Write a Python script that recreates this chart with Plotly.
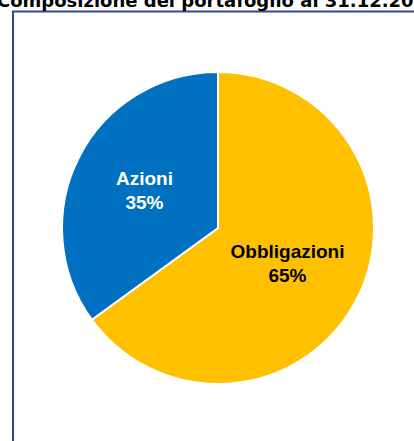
import plotly.graph_objects as go

labels = ["Obbligazioni", "Azioni"]
values = [65, 35]
colors = ["#FFC000", "#0070C0"]
text_colors = ["#000000", "#FFFFFF"]
title_text = "Composizione del portafoglio al 31.12.2023"

W, H = 414, 441
cx, cy, r = 218, 228, 156

fig = go.Figure(go.Pie(
    labels=labels,
    values=values,
    sort=False,
    direction="clockwise",
    rotation=0,
    marker=dict(colors=colors, line=dict(color="white", width=2)),
    textinfo="label+percent",
    texttemplate="%{label}<br>%{percent:.0%}",
    textposition="inside",
    insidetextorientation="horizontal",
    insidetextfont=dict(color=text_colors, family="Liberation Sans, Arial", size=19, weight="bold"),
    showlegend=False,
    hoverinfo="label+percent",
    domain=dict(x=[(cx - r) / W, (cx + r) / W], y=[(H - cy - r) / H, (H - cy + r) / H]),
))

frame_color = "#2E4A87"
# left edge of frame
fig.add_shape(type="line", xref="paper", yref="paper",
              x0=13 / W, x1=13 / W, y0=-0.02, y1=(H - 11) / H,
              line=dict(color=frame_color, width=2))
# top edge of frame
fig.add_shape(type="line", xref="paper", yref="paper",
              x0=12 / W, x1=1.02, y0=(H - 11.5) / H, y1=(H - 11.5) / H,
              line=dict(color=frame_color, width=2))

fig.add_annotation(text="<b>" + title_text + "</b>", xref="paper", yref="paper",
                   x=-5 / W, y=(H - 13) / H, xanchor="left", yanchor="bottom",
                   showarrow=False,
                   font=dict(family="DejaVu Sans", size=18, color="#000000"))

fig.update_layout(width=W, height=H, margin=dict(l=0, r=0, t=0, b=0),
                  paper_bgcolor="white", plot_bgcolor="white")

fig.write_html("out.html", config={"displayModeBar": False},
               post_script="document.body.style.margin='0';")
